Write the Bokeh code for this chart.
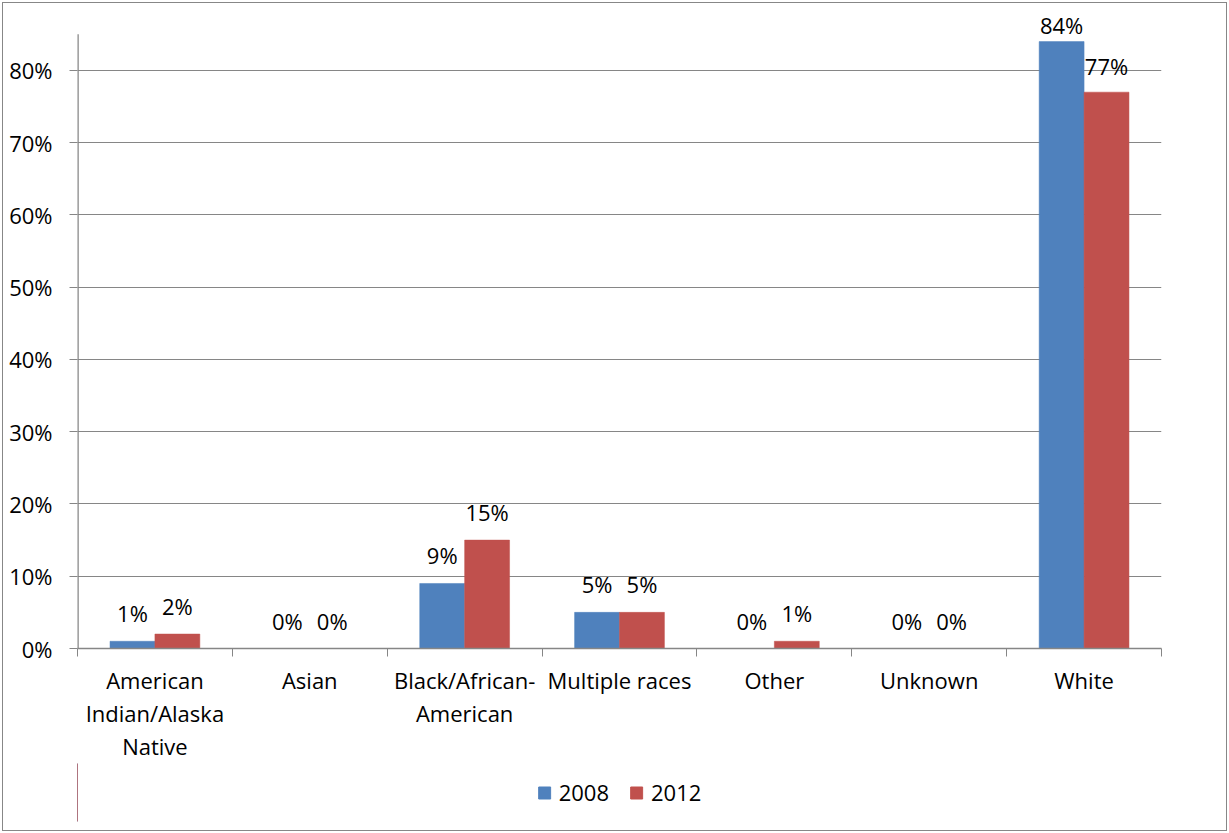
from bokeh.plotting import figure
from bokeh.layouts import column
from bokeh.models import (ColumnDataSource, FixedTicker, PrintfTickFormatter, Range1d,
                          LabelSet, Legend, LegendItem)
from bokeh.core.properties import value
from bokeh.embed import file_html
from bokeh.resources import INLINE

categories = ["American Indian/Alaska Native", "Asian", "Black/African-American",
              "Multiple races", "Other", "Unknown", "White"]
category_labels = ["American\nIndian/Alaska\nNative", "Asian", "Black/African-\nAmerican",
                   "Multiple races", "Other", "Unknown", "White"]
series_names = ["2008", "2012"]
values_2008 = [1, 0, 9, 5, 0, 0, 84]
values_2012 = [2, 0, 15, 5, 1, 0, 77]
y_ticks = [0, 10, 20, 30, 40, 50, 60, 70, 80]
y_axis_max = 85

FONT = "Open Sans"
FS = "22px"
GRAY = "#868686"
BLUE = "#4F81BD"
RED = "#C0504D"
BAR_W = 0.29

n = len(categories)
centers = [i + 0.5 for i in range(n)]

p = figure(width=1229, height=763, output_backend="svg", toolbar_location=None,
           x_range=Range1d(0, n), y_range=Range1d(0, 87.75),
           min_border_left=77, min_border_right=68, min_border_top=14, min_border_bottom=115)
p.background_fill_color = "white"
p.border_fill_alpha = 0
p.outline_line_color = None

src08 = ColumnDataSource(dict(x=[c - BAR_W / 2 for c in centers], top=values_2008,
                              lab=[f"{v}%" for v in values_2008],
                              off=[8 if v > 80 else 19 for v in values_2008]))
src12 = ColumnDataSource(dict(x=[c + BAR_W / 2 for c in centers], top=values_2012,
                              lab=[f"{v}%" for v in values_2012],
                              off=[17 if v > 70 else 19 for v in values_2012]))

r08 = p.vbar(x="x", top="top", bottom=0, width=BAR_W, source=src08,
             fill_color=BLUE, line_color=BLUE, line_width=0.5)
r12 = p.vbar(x="x", top="top", bottom=0, width=BAR_W, source=src12,
             fill_color=RED, line_color=RED, line_width=0.5)

# vertical axis line from 0 to the axis maximum
p.segment(x0=[0], y0=[0], x1=[0], y1=[y_axis_max], line_color=GRAY, line_width=2.5)

for src in (src08, src12):
    p.add_layout(LabelSet(x="x", y="top", text="lab", source=src, y_offset="off",
                          text_align="center", text_baseline="alphabetic",
                          text_font=value(FONT), text_font_size=value(FS),
                          text_color="black"))

# x axis: labels at category centers, ticks at category boundaries
xa = p.xaxis[0]
xa.ticker = FixedTicker(ticks=centers, minor_ticks=list(range(n + 1)))
xa.major_label_overrides = {c: lab for c, lab in zip(centers, category_labels)}
xa.major_tick_out = 0
xa.major_tick_in = 0
xa.minor_tick_out = 8
xa.minor_tick_in = 0
xa.minor_tick_line_color = GRAY
xa.axis_line_color = GRAY
xa.axis_line_width = 1.5
xa.major_label_text_font = FONT
xa.major_label_text_font_size = FS
xa.major_label_text_color = "black"
xa.major_label_text_line_height = 1.1
xa.major_label_standoff = 8

ya = p.yaxis[0]
ya.ticker = FixedTicker(ticks=y_ticks)
ya.formatter = PrintfTickFormatter(format="%d%%")
ya.major_tick_out = 8
ya.major_tick_in = 0
ya.minor_tick_line_color = None
ya.major_tick_line_color = GRAY
ya.axis_line_color = None
ya.major_label_text_font = FONT
ya.major_label_text_font_size = FS
ya.major_label_text_color = "black"
ya.major_label_standoff = 17

p.xgrid.grid_line_color = None
p.ygrid.grid_line_color = GRAY
p.ygrid.grid_line_width = 1.2
p.ygrid.ticker = FixedTicker(ticks=y_ticks[1:])

# legend strip below the chart (key glyphs sit outside its visible range)
pl = figure(width=1229, height=70, output_backend="svg", toolbar_location=None,
            x_axis_type=None, y_axis_type=None, x_range=Range1d(0, 1), y_range=Range1d(0, 1),
            min_border_left=10, min_border_right=0, min_border_top=0, min_border_bottom=12)
pl.grid.visible = False
pl.outline_line_color = None
pl.background_fill_alpha = 0
pl.border_fill_alpha = 0
k08 = pl.vbar(x=[-5], top=[1], width=0.1, fill_color=BLUE, line_color=BLUE)
k12 = pl.vbar(x=[-5], top=[1], width=0.1, fill_color=RED, line_color=RED)
legend = Legend(items=[LegendItem(label=series_names[0], renderers=[k08]),
                       LegendItem(label=series_names[1], renderers=[k12])],
                orientation="horizontal", location="center",
                glyph_width=15, glyph_height=15, label_height=15, label_standoff=7,
                spacing=20, padding=0, margin=0, border_line_color=None,
                background_fill_alpha=0, label_text_font=FONT, label_text_font_size=FS,
                label_text_color="black")
pl.add_layout(legend, "center")

layout = column(p, pl, spacing=0,
                styles={"box-shadow": "inset 0 0 0 2px #ffffff, inset 0 0 0 3px #878787",
                        "background-color": "white"})

open("out.html", "w").write(file_html(layout, INLINE))
